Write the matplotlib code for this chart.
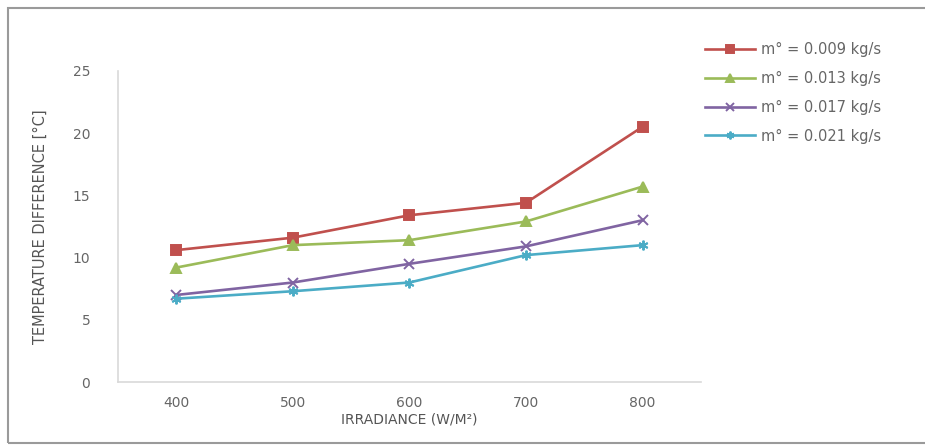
import matplotlib.pyplot as plt
from matplotlib.patches import Rectangle

# data
irradiance = ["400", "500", "600", "700", "800"]
flow_labels = ["m° = 0.009 kg/s", "m° = 0.013 kg/s", "m° = 0.017 kg/s", "m° = 0.021 kg/s"]
dt_009 = [10.6, 11.6, 13.4, 14.4, 20.5]
dt_013 = [9.2, 11.0, 11.4, 12.9, 15.7]
dt_017 = [7.0, 8.0, 9.5, 10.9, 13.0]
dt_021 = [6.7, 7.3, 8.0, 10.2, 11.0]
yticks = [0, 5, 10, 15, 20, 25]

colors = ["#C0504D", "#9BBB59", "#8064A2", "#4BACC6"]
markers = ["s", "^", "x", (6, 2, 0)]

fig = plt.figure(figsize=(9.25, 4.48), dpi=100)
ax = fig.add_axes([0.1276, 0.147, 0.63, 0.695])

# outer frame of the chart
fig.patches.append(Rectangle((0.009, 0.012), 1.2, 0.97, transform=fig.transFigure,
                             fill=False, edgecolor="#9a9a9a", linewidth=1.5))

x = list(range(len(irradiance)))
for vals, c, m, lab in zip([dt_009, dt_013, dt_017, dt_021], colors, markers, flow_labels):
    ax.plot(x, vals, color=c, marker=m, markersize=7, linewidth=1.9, markeredgewidth=1.4,
            label=lab)

ax.set_xlim(-0.5, 4.5)
ax.set_ylim(0, 25)
ax.set_xticks(x)
ax.set_xticklabels(irradiance)
ax.set_yticks(yticks)
ax.tick_params(length=0, labelsize=10, colors="#666666")
ax.tick_params(axis="x", pad=10)
ax.tick_params(axis="y", pad=20)

for s in ["top", "right"]:
    ax.spines[s].set_visible(False)
for s in ["left", "bottom"]:
    ax.spines[s].set_color("#d9d9d9")
    ax.spines[s].set_linewidth(1.2)

ax.set_xlabel("IRRADIANCE (W/M²)", fontsize=10, color="#555555", labelpad=2)
ax.set_ylabel("TEMPERATURE DIFFERENCE [°C]", fontsize=10.5, color="#555555", labelpad=18,
              family=["Liberation Sans Narrow", "DejaVu Sans"])

ax.legend(loc="upper left", bbox_to_anchor=(0.985, 1.135), frameon=False, fontsize=10.5,
          labelcolor="#666666", handlelength=3.4, handletextpad=0.4, labelspacing=0.95,
          markerscale=0.8)

fig.savefig("out.png", dpi=100)
